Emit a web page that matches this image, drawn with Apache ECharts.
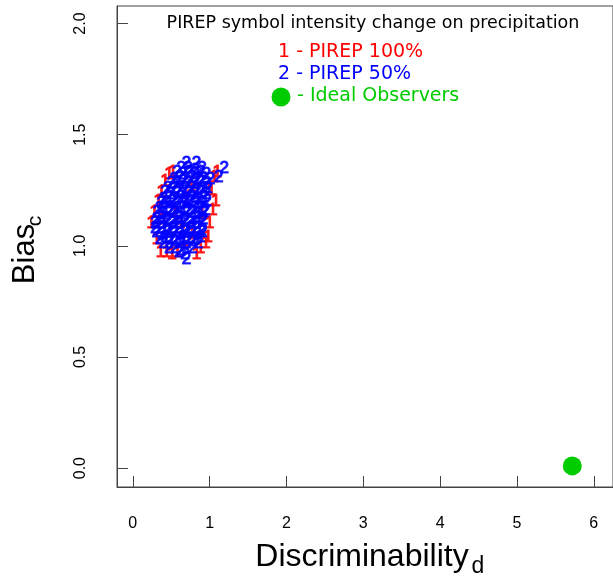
<!DOCTYPE html>
<html>
<head>
<meta charset="utf-8">
<script src="https://cdn.jsdelivr.net/npm/echarts@6/dist/echarts.min.js"></script>
<style>
  html, body { margin: 0; padding: 0; background: #fff; }
  #container { width: 613px; height: 580px; }
</style>
</head>
<body>
<div id="container"></div>
<script>
var dom = document.getElementById('container');
var myChart = echarts.init(dom, null, { renderer: 'canvas' });

// PIREP 100% (symbol "1") - mostly hidden under the "2"s, visible at the edges
var pirep100 = [
  [0.24, 1.10], [0.28, 1.15], [0.33, 1.20], [0.37, 1.24], [0.42, 1.29], [0.47, 1.32], [0.52, 1.33],
  [0.36, 0.97], [0.44, 0.97], [0.51, 0.96], [0.58, 0.97], [0.83, 0.96], [0.88, 0.99],
  [1.08, 1.20], [1.04, 1.16], [1.06, 1.31], [1.10, 1.33], [1.02, 1.25], [1.00, 1.10],
  [0.98, 1.04], [0.95, 1.01], [0.31, 1.03], [0.62, 1.10], [0.70, 1.20], [0.55, 1.15],
  [0.80, 1.05], [0.40, 1.12], [0.66, 1.02], [0.76, 1.27], [0.90, 1.14]
];
// PIREP 50% (symbol "2")
var pirep50 = [
  [0.70, 1.37], [0.83, 1.37],
  [0.63, 1.35], [0.72, 1.35], [0.81, 1.34], [0.90, 1.35], [1.19, 1.35],
  [0.58, 1.33], [0.65, 1.32], [0.73, 1.33], [0.81, 1.32], [0.88, 1.33], [0.96, 1.32], [1.12, 1.31],
  [0.54, 1.30], [0.61, 1.31], [0.69, 1.30], [0.77, 1.31], [0.84, 1.30], [0.92, 1.30], [1.01, 1.30],
  [0.50, 1.28], [0.58, 1.28], [0.65, 1.29], [0.73, 1.28], [0.81, 1.28], [0.88, 1.29], [0.96, 1.28],
  [0.46, 1.26], [0.54, 1.26], [0.61, 1.25], [0.69, 1.26], [0.77, 1.26], [0.84, 1.25], [0.92, 1.26], [0.98, 1.26],
  [0.42, 1.24], [0.50, 1.23], [0.58, 1.24], [0.65, 1.23], [0.73, 1.24], [0.81, 1.23], [0.88, 1.24], [0.96, 1.23],
  [0.40, 1.21], [0.47, 1.22], [0.55, 1.21], [0.63, 1.22], [0.70, 1.21], [0.78, 1.22], [0.86, 1.21], [0.93, 1.22],
  [0.37, 1.19], [0.45, 1.19], [0.52, 1.20], [0.60, 1.19], [0.68, 1.19], [0.75, 1.20], [0.83, 1.19], [0.91, 1.19], [0.97, 1.20],
  [0.35, 1.17], [0.42, 1.17], [0.50, 1.16], [0.58, 1.17], [0.65, 1.17], [0.73, 1.16], [0.81, 1.17], [0.88, 1.17], [0.95, 1.16],
  [0.32, 1.15], [0.40, 1.14], [0.47, 1.15], [0.55, 1.15], [0.63, 1.14], [0.70, 1.15], [0.78, 1.15], [0.86, 1.14], [0.93, 1.15],
  [0.31, 1.12], [0.38, 1.13], [0.46, 1.12], [0.54, 1.12], [0.61, 1.13], [0.69, 1.12], [0.77, 1.12], [0.84, 1.13], [0.92, 1.12],
  [0.29, 1.10], [0.37, 1.10], [0.45, 1.11], [0.52, 1.10], [0.60, 1.10], [0.68, 1.11], [0.75, 1.10], [0.83, 1.10], [0.91, 1.11],
  [0.29, 1.08], [0.37, 1.08], [0.45, 1.07], [0.52, 1.08], [0.60, 1.08], [0.68, 1.07], [0.75, 1.08], [0.83, 1.08], [0.90, 1.07],
  [0.31, 1.06], [0.38, 1.05], [0.46, 1.06], [0.54, 1.06], [0.61, 1.05], [0.69, 1.06], [0.77, 1.06], [0.84, 1.05], [0.91, 1.06],
  [0.35, 1.03], [0.42, 1.04], [0.50, 1.03], [0.58, 1.03], [0.65, 1.04], [0.73, 1.03], [0.81, 1.03], [0.88, 1.04],
  [0.40, 1.01], [0.47, 1.01], [0.55, 1.02], [0.63, 1.01], [0.70, 1.01], [0.78, 1.02], [0.86, 1.01],
  [0.47, 0.99], [0.55, 0.99], [0.63, 0.98], [0.70, 0.99], [0.78, 0.99],
  [0.60, 0.97], [0.68, 0.96],
  [0.70, 0.94]
];
// ideal observer
var ideal = [[5.72, 0.01]];

var xTicks = [0, 1, 2, 3, 4, 5, 6];
var yTicks = [0, 0.5, 1, 1.5, 2];

var title = 'PIREP symbol intensity change on precipitation';
var legendItems = ['1 - PIREP 100%', '2 - PIREP 50%', '- Ideal Observers'];

var red = '#ff0000', blue = '#0000ff', green = '#00cc00';
var axisFont = 'Liberation Sans, Arial, sans-serif';
var legFont = 'DejaVu Sans, sans-serif';

function textSeries(name, data, sym, color) {
    return {
        name: name,
        type: 'scatter',
        data: data,
        symbol: 'circle',
        symbolSize: 1,
        itemStyle: { color: 'rgba(0,0,0,0)' },
        label: {
            show: true,
            position: 'inside',
            formatter: sym,
            color: color,
            fontSize: 17,
            fontFamily: axisFont,
            textBorderColor: color,
            textBorderWidth: 1.2
        },
        emphasis: { disabled: true },
        silent: true
    };
}

var option = {
    animation: false,
    grid: {
        left: 117, top: 6, width: 505, height: 481,
        show: true, borderColor: '#444', borderWidth: 1,
        backgroundColor: 'transparent'
    },
    xAxis: {
        type: 'value',
        position: 'bottom',
        min: -0.205, max: 6.25,
        axisLine: { show: true, onZero: false, lineStyle: { color: '#444' } },
        splitLine: { show: false },
        // custom ticks come out on the wrong side here, so flip them
        axisTick: { show: true, inside: true, customValues: xTicks, length: 11, lineStyle: { color: '#444' } },
        axisLabel: {
            customValues: xTicks, margin: 29,
            color: '#000', fontSize: 16, fontFamily: axisFont
        }
    },
    yAxis: {
        type: 'value',
        position: 'left',
        min: -0.085, max: 2.079,
        axisLine: { show: true, onZero: false, lineStyle: { color: '#444' } },
        splitLine: { show: false },
        axisTick: { show: true, inside: true, customValues: yTicks, length: 11, lineStyle: { color: '#444' } },
        axisLabel: {
            customValues: yTicks, margin: 28, rotate: 90,
            color: '#000', fontSize: 16, fontFamily: axisFont,
            formatter: function (v) { return v.toFixed(1); }
        }
    },
    series: [
        textSeries('PIREP 100%', pirep100, '1', red),
        textSeries('PIREP 50%', pirep50, '2', blue),
        {
            name: 'Ideal Observers',
            type: 'scatter',
            data: ideal,
            symbol: 'circle',
            symbolSize: 19,
            itemStyle: { color: green, opacity: 1 },
            emphasis: { disabled: true },
            silent: true
        }
    ],
    graphic: [
        { type: 'text', x: 373, y: 23, style: { text: title, font: '17.5px ' + legFont, fill: '#000', align: 'center', verticalAlign: 'middle' } },
        { type: 'text', x: 278, y: 52, style: { text: legendItems[0], font: '19px ' + legFont, fill: red, align: 'left', verticalAlign: 'middle' } },
        { type: 'text', x: 278, y: 74, style: { text: legendItems[1], font: '19px ' + legFont, fill: blue, align: 'left', verticalAlign: 'middle' } },
        { type: 'circle', shape: { cx: 281, cy: 97, r: 9.5 }, style: { fill: green } },
        { type: 'text', x: 297, y: 96, style: { text: legendItems[2], font: '19px ' + legFont, fill: green, align: 'left', verticalAlign: 'middle' } },
        // axis titles with subscripts
        { type: 'text', x: 362, y: 557, style: { text: 'Discriminability', font: '32px ' + axisFont, fill: '#000', align: 'center', verticalAlign: 'middle' } },
        { type: 'text', x: 478, y: 567, style: { text: 'd', font: '23px ' + axisFont, fill: '#000', align: 'center', verticalAlign: 'middle' } },
        { type: 'text', x: 25, y: 254, rotation: Math.PI / 2, style: { text: 'Bias', font: '31px ' + axisFont, fill: '#000', align: 'center', verticalAlign: 'middle' } },
        { type: 'text', x: 35, y: 221, rotation: Math.PI / 2, style: { text: 'c', font: '21px ' + axisFont, fill: '#000', align: 'center', verticalAlign: 'middle' } }
    ]
};

myChart.setOption(option);
</script>
</body>
</html>
